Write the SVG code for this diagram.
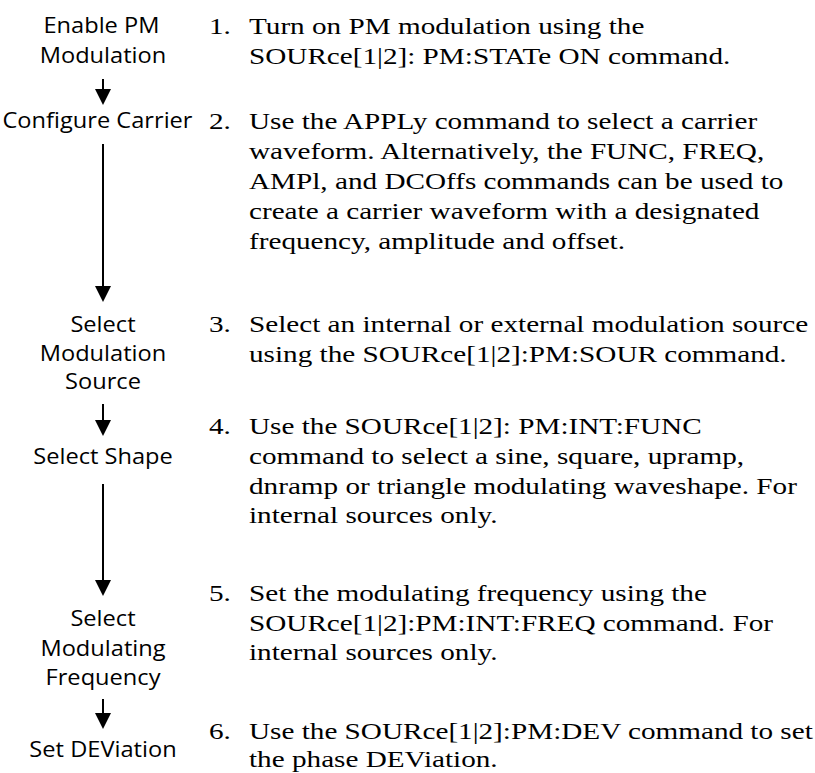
<svg xmlns="http://www.w3.org/2000/svg" width="815" height="773" viewBox="0 0 815 773">
  <style>
    .lbl { font-family: "Open Sans", "Noto Sans", sans-serif; font-size: 21px; fill: #000; text-anchor: middle; }
    .txt { font-family: "Liberation Serif", "Times New Roman", serif; font-size: 23px; fill: #000; }
    .con { stroke: #000; stroke-width: 2; fill: none; }
  </style>
  <defs>
    <marker id="arr" markerUnits="userSpaceOnUse" markerWidth="16" markerHeight="16" refX="4" refY="8" orient="auto" viewBox="0 0 16 16">
      <path d="M0,0 L16,8 L0,16 Z" fill="#000"/>
    </marker>
  </defs>
  <rect width="815" height="773" fill="#fff"/>

  <g id="step1">
    <g transform="scale(1.125 1)">
      <text class="lbl" x="90.2" y="33">Enable PM</text>
      <text class="lbl" x="91.56" y="63">Modulation</text>
    </g>
    <g transform="scale(1.27 1)">
      <text class="txt" x="164.6" y="34">1.</text>
      <text class="txt" x="196.06" y="34">Turn on PM modulation using the</text>
      <text class="txt" x="196.06" y="64">SOURce[1|2]: PM:STATe ON command.</text>
    </g>
  </g>
  <g id="step2">
    <g transform="scale(1.125 1)">
      <text class="lbl" x="86.67" y="128">Configure Carrier</text>
    </g>
    <g transform="scale(1.27 1)">
      <text class="txt" x="164.6" y="129">2.</text>
      <text class="txt" x="196.06" y="129">Use the APPLy command to select a carrier</text>
      <text class="txt" x="196.06" y="159">waveform. Alternatively, the FUNC, FREQ,</text>
      <text class="txt" x="196.06" y="189">AMPl, and DCOffs commands can be used to</text>
      <text class="txt" x="196.06" y="219">create a carrier waveform with a designated</text>
      <text class="txt" x="196.06" y="249">frequency, amplitude and offset.</text>
    </g>
  </g>
  <g id="step3">
    <g transform="scale(1.125 1)">
      <text class="lbl" x="91.56" y="332">Select</text>
      <text class="lbl" x="91.56" y="361">Modulation</text>
      <text class="lbl" x="91.56" y="389">Source</text>
    </g>
    <g transform="scale(1.27 1)">
      <text class="txt" x="164.6" y="332">3.</text>
      <text class="txt" x="196.06" y="332">Select an internal or external modulation source</text>
      <text class="txt" x="196.06" y="362">using the SOURce[1|2]:PM:SOUR command.</text>
    </g>
  </g>
  <g id="step4">
    <g transform="scale(1.125 1)">
      <text class="lbl" x="91.56" y="464">Select Shape</text>
    </g>
    <g transform="scale(1.27 1)">
      <text class="txt" x="164.6" y="434">4.</text>
      <text class="txt" x="196.06" y="434">Use the SOURce[1|2]: PM:INT:FUNC</text>
      <text class="txt" x="196.06" y="464">command to select a sine, square, upramp,</text>
      <text class="txt" x="196.06" y="494">dnramp or triangle modulating waveshape. For</text>
      <text class="txt" x="196.06" y="523">internal sources only.</text>
    </g>
  </g>
  <g id="step5">
    <g transform="scale(1.125 1)">
      <text class="lbl" x="91.56" y="626">Select</text>
      <text class="lbl" x="91.56" y="656">Modulating</text>
      <text class="lbl" x="91.56" y="685">Frequency</text>
    </g>
    <g transform="scale(1.27 1)">
      <text class="txt" x="164.6" y="601">5.</text>
      <text class="txt" x="196.06" y="601">Set the modulating frequency using the</text>
      <text class="txt" x="196.06" y="631">SOURce[1|2]:PM:INT:FREQ command. For</text>
      <text class="txt" x="196.06" y="660">internal sources only.</text>
    </g>
  </g>
  <g id="step6">
    <g transform="scale(1.125 1)">
      <text class="lbl" x="91.56" y="757">Set DEViation</text>
    </g>
    <g transform="scale(1.27 1)">
      <text class="txt" x="164.6" y="739">6.</text>
      <text class="txt" x="196.06" y="739">Use the SOURce[1|2]:PM:DEV command to set</text>
      <text class="txt" x="196.06" y="767">the phase DEViation.</text>
    </g>
  </g>

  <g id="connectors">
    <line class="con" x1="103" y1="79" x2="103" y2="93" marker-end="url(#arr)"/>
    <line class="con" x1="103" y1="144" x2="103" y2="290" marker-end="url(#arr)"/>
    <line class="con" x1="103" y1="404" x2="103" y2="424" marker-end="url(#arr)"/>
    <line class="con" x1="103" y1="484" x2="103" y2="584" marker-end="url(#arr)"/>
    <line class="con" x1="103" y1="699" x2="103" y2="717" marker-end="url(#arr)"/>
  </g>
</svg>
